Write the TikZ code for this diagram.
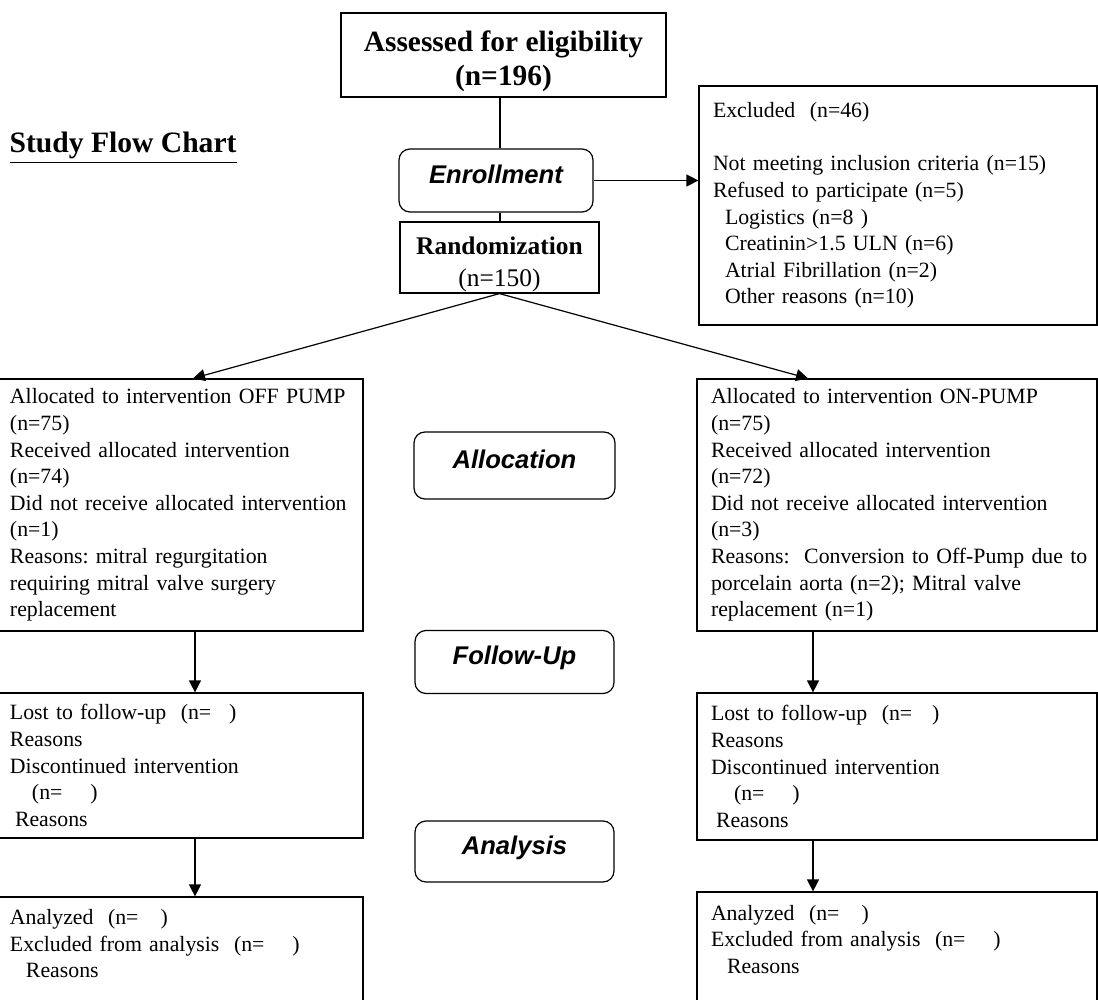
\documentclass[tikz,border=0pt]{standalone}
\usepackage{fontspec}
\setmainfont{Liberation Serif}
\newfontfamily\phasefont{Liberation Sans}
\usetikzlibrary{arrows.meta}
\frenchspacing

\begin{document}
\begin{tikzpicture}[x=0.5pt, y=-0.5pt, line width=0.6pt, >={Triangle[length=6pt, width=6pt]},
rectTitle/.style={rectangle, draw=black, minimum width=162.5pt, minimum height=42pt, inner ysep=0pt, align=center, font=\fontsize{14.7}{17}\selectfont\bfseries},
rectRandom/.style={rectangle, draw=black, minimum width=99.5pt, minimum height=35.5pt, inner ysep=0pt, align=center, font=\fontsize{12.7}{16}\selectfont},
rectPhase/.style={rectangle, draw=black, rounded corners=5.5pt, minimum width=99.5pt, minimum height=31.5pt, text height=0.73em, text depth=0.45em, font=\fontsize{12.8}{15}\phasefont\bfseries\itshape},
rectInfo/.style={rectangle, draw=black, inner xsep=7pt, align=left, font=\fontsize{10.9}{13.3}\selectfont},
rectLeft/.style={rectInfo, text width=169.5pt},
rectRight/.style={rectInfo, text width=186pt}
]

\useasboundingbox (0, 0) rectangle (1098, 1000);
\clip (0, 0) rectangle (1098, 1000);

\node[anchor=base west, inner sep=0pt, font=\fontsize{14.8}{17}\selectfont\bfseries] (chartTitle) at (9, 153) {\underline{Study Flow Chart}};

\node[rectTitle] (assessed) at (503.5, 55) {\rule{0pt}{17pt}Assessed for eligibility\\(n=196)};
\node[rectPhase, minimum width=97pt] (enroll) at (496, 180.5) {Enrollment};
\node[rectRandom] (random) at (499.5, 257.5) {\rule{0pt}{15.5pt}\textbf{Randomization}\\(n=150)};

\node[rectInfo, text width=185pt, minimum height=119.5pt] (excluded) at (898, 205.5) {Excluded\ \ (n=46)\\[13.3pt]
Not meeting inclusion criteria (n=15)\\
Refused to participate (n=5)\\
\hspace*{6pt}Logistics (n=8\ )\\
\hspace*{6pt}Creatinin>1.5 ULN (n=6)\\
\hspace*{6pt}Atrial Fibrillation (n=2)\\
\hspace*{6pt}Other reasons (n=10)};



\node[rectLeft, minimum height=126pt] (offPump) at (179.5, 505) {Allocated to intervention OFF PUMP\\
(n=75)\\
Received allocated intervention\\
(n=74)\\
Did not receive allocated intervention\\
(n=1)\\
Reasons: mitral regurgitation\\
requiring mitral valve surgery\\
replacement};

\node[rectRight, minimum height=126pt] (onPump) at (897, 505) {Allocated to intervention ON-PUMP\\
(n=75)\\
Received allocated intervention\\
(n=72)\\
Did not receive allocated intervention\\
(n=3)\\
\mbox{Reasons:\ \ Conversion to Off-Pump due to}\\
porcelain aorta (n=2); Mitral valve\\
replacement (n=1)};

\node[rectPhase, minimum width=100.5pt, minimum height=33.5pt] (allocation) at (514.5, 465.5) {Allocation};
\node[rectPhase] (followUp) at (514.5, 662) {Follow-Up};
\node[rectPhase, minimum height=30.5pt] (analysis) at (514.5, 851.5) {Analysis};



\node[rectLeft, minimum height=72.5pt] (lostLeft) at (179.5, 765.5) {Lost to follow-up\ \ (n=\hspace{9pt})\\
Reasons\\
Discontinued intervention\\
\hspace*{11pt}(n=\hspace{14pt})\\
\hspace*{2.5pt}Reasons};

\node[rectRight, minimum height=73.5pt] (lostRight) at (897, 766.5) {Lost to follow-up\ \ (n=\hspace{10pt})\\
Reasons\\
Discontinued intervention\\
\hspace*{11.5pt}(n=\hspace{14pt})\\
\hspace*{2.5pt}Reasons};

\node[rectLeft, minimum height=60pt] (analyzedLeft) at (179.5, 957) {Analyzed\ \ (n=\hspace{11pt})\\
Excluded from analysis\ \ (n=\hspace{14pt})\\
\hspace*{8pt}Reasons\\
\mbox{}};

\node[rectRight, minimum height=60.5pt] (analyzedRight) at (897, 952.5) {Analyzed\ \ (n=\hspace{11pt})\\
Excluded from analysis\ \ (n=\hspace{14pt})\\
\hspace*{8pt}Reasons\\
\mbox{}};



\path 	([xshift=-1.75pt]assessed.south) 	edge 	([xshift=2pt]enroll.north)
		([xshift=2pt]enroll.south) 			edge 	([xshift=0.25pt]random.north);

\path[->] 	(enroll.east) 						edge 	(enroll.east -| excluded.west)
			(random.south) 						edge 	([xshift=6.75pt]offPump.north)
			(random.south) 						edge 	([xshift=-44.5pt]onPump.north)
			([xshift=7.75pt]offPump.south) 		edge 	([xshift=7.75pt]lostLeft.north)
			([xshift=7.75pt]lostLeft.south) 	edge 	([xshift=7.75pt]analyzedLeft.north)
			([xshift=-42pt]onPump.south) 		edge 	([xshift=-42pt]lostRight.north)
			([xshift=-42pt]lostRight.south) 	edge 	([xshift=-42pt]analyzedRight.north);

\end{tikzpicture}
\end{document}
